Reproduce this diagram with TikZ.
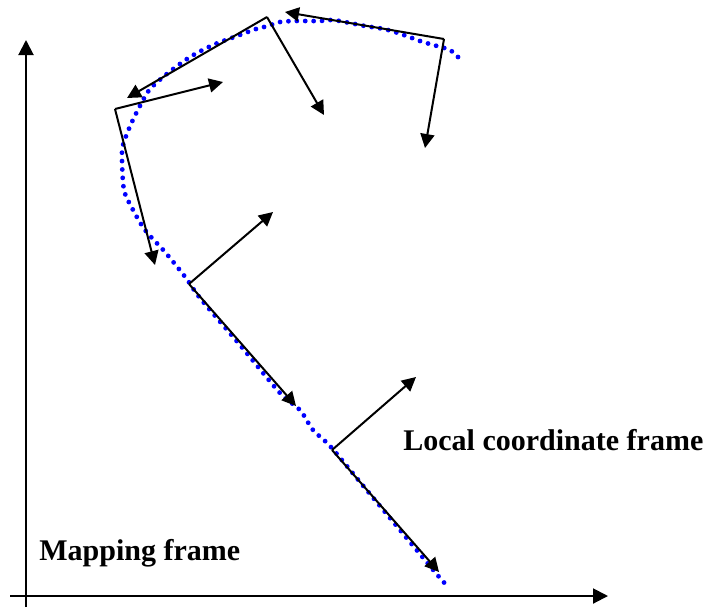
\documentclass[tikz,border=0pt]{standalone}
\usepackage{fontspec}
\setmainfont{Liberation Serif}
\usetikzlibrary{arrows.meta,positioning}

\tikzset{
    axis/.style={line width=1pt, -{Triangle[length=7.5pt,width=7.5pt]}},
    frame/.style={line width=1pt, -{Triangle[length=7pt,width=7pt]}},
    trail/.style={blue, line width=2.4pt, line cap=round, dash pattern=on 0pt off 4.2pt},
    label/.style={inner sep=0pt, anchor=base west, font=\bfseries\fontsize{15}{18}\selectfont}
}

\begin{document}
\begin{tikzpicture}[x=0.5pt, y=-0.5pt]
        \useasboundingbox (0,0) rectangle (706,607);

        % mapping frame axes
        \coordinate (ybot) at (26,607);
        \coordinate (ytop) at (26,40);
        \coordinate (xleft) at (10,596);
        \coordinate (xright) at (608,596);
        \draw[axis] (ybot) -- (ytop);
        \draw[axis] (xleft) -- (xright);

        % measured trajectory
        \draw[trail] plot[smooth, tension=0.5] coordinates {
            (458,57) (450,50) (437,46) (423,42) (412,38) (398,33) (384,29)
            (365,26) (350,23) (333,20) (320,21) (307,21) (294,21) (280,22)
            (268,26) (256,29) (237,36) (213,45) (190,57) (168,73) (150,89)
            (141,104) (131,124) (123,145) (122,160) (124,190) (132,208)
            (145,230) (165,252) (186,278) (200,298) (240,345) (280,393)
            (300,410) (313,430) (330,446) (360,482) (400,530) (440,578) (448,586)};

        % local frames
        \coordinate (fa) at (115,109);
        \coordinate (fax) at (223,82);
        \coordinate (fay) at (155,265);
        \coordinate (fb) at (267,17);
        \coordinate (fbx) at (127,98);
        \coordinate (fby) at (324,115);
        \coordinate (fc) at (444,39);
        \coordinate (fcx) at (285,12);
        \coordinate (fcy) at (425,148);
        \coordinate (fd) at (189,284);
        \coordinate (fdx) at (273,212);
        \coordinate (fdy) at (296,406);
        \coordinate (fe) at (332,450);
        \coordinate (fex) at (416,377);
        \coordinate (fey) at (439,572);

        \foreach \f in {fa,fb,fc,fd,fe} {
            \draw[frame] (\f) -- (\f x);
            \draw[frame] (\f) -- (\f y);
        }

        \node[label] (mapping) at (39,560) {Mapping frame};
        \node[label] (local) at (403,450) {Local coordinate frame};
    \end{tikzpicture}
\end{document}
